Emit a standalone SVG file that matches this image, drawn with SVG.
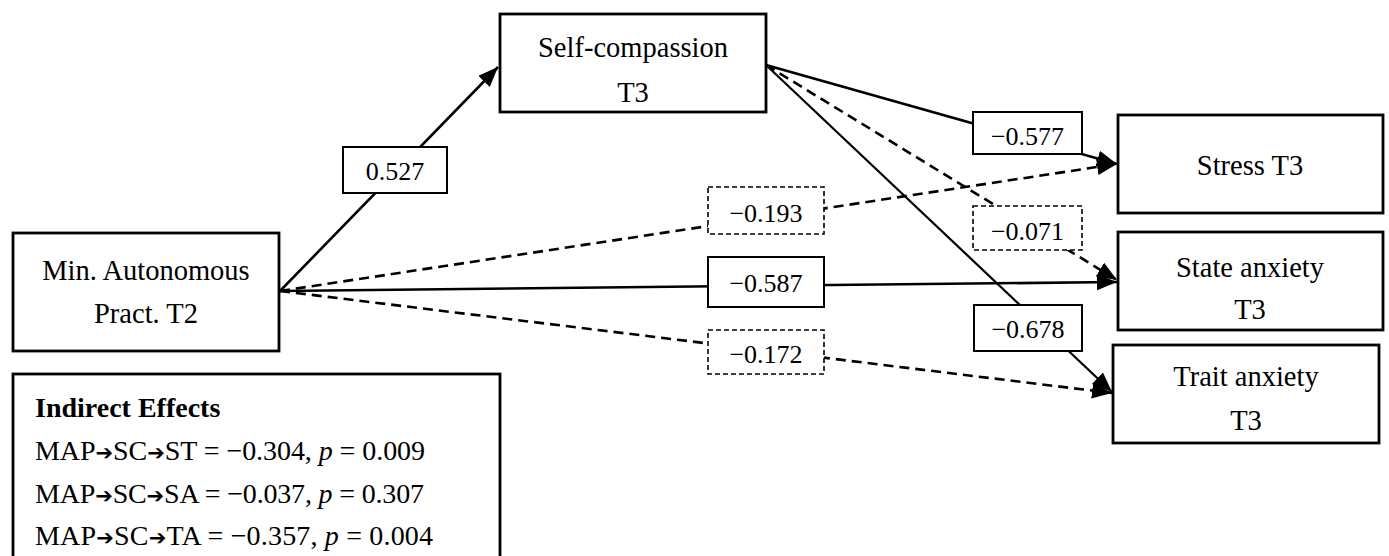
<svg xmlns="http://www.w3.org/2000/svg" width="1389" height="556" viewBox="0 0 1389 556">
<defs>
<style>
text{font-family:"Liberation Serif","Times New Roman",serif;fill:#000}
.node{fill:#fff;stroke:#000;stroke-width:2.8}
.nt{font-size:28.5px;text-anchor:middle}
.lab{fill:#fff;stroke:#000;stroke-width:2}
.labd{fill:#fff;stroke:#000;stroke-width:1.6;stroke-dasharray:5 3}
.lt{font-size:26px;text-anchor:middle}
.c{fill:none;stroke:#000;stroke-width:2.6;marker-end:url(#ah)}
.d{stroke-dasharray:10 6}
.ie{font-size:28px}
.ar{font-family:"DejaVu Sans",sans-serif;font-size:21px}
</style>
<marker id="ah" markerUnits="userSpaceOnUse" markerWidth="22" markerHeight="18" refX="20" refY="8" orient="auto">
<path d="M0,0 L20,8 L0,16 z" fill="#000"/>
</marker>
</defs>
<rect width="1389" height="556" fill="#fff"/>

<g id="connectors">
<line class="c" x1="280" y1="291" x2="498" y2="67"/>
<line class="c" x1="766" y1="65" x2="1117" y2="164"/>
<line class="c d" x1="766" y1="65" x2="1117" y2="280"/>
<line class="c" style="stroke-width:2.2" x1="766" y1="65" x2="1112" y2="392"/>
<line class="c d" x1="280" y1="291" x2="1117" y2="164"/>
<line class="c" x1="280" y1="291" x2="1117" y2="282"/>
<line class="c d" x1="280" y1="291" x2="1112" y2="393"/>
</g>

<g id="labels">
<g id="lab-0527"><rect class="lab" x="343" y="147" width="104" height="46"/><text class="lt" x="395" y="180">0.527</text></g>
<g id="lab-0193"><rect class="labd" x="708" y="187" width="116" height="47"/><text class="lt" x="766" y="222">−0.193</text></g>
<g id="lab-0587"><rect class="lab" x="708" y="257" width="116" height="50"/><text class="lt" x="766" y="292">−0.587</text></g>
<g id="lab-0172"><rect class="labd" x="708" y="330" width="116" height="44"/><text class="lt" x="766" y="363">−0.172</text></g>
<g id="lab-0577"><rect class="lab" x="973" y="112" width="109" height="42"/><text class="lt" x="1027.5" y="145">−0.577</text></g>
<g id="lab-0071"><rect class="labd" x="973" y="206" width="109" height="44"/><text class="lt" x="1027.5" y="240">−0.071</text></g>
<g id="lab-0678"><rect class="lab" x="974" y="305" width="108" height="46"/><text class="lt" x="1028" y="338">−0.678</text></g>
</g>

<g id="node-sc"><rect class="node" x="500" y="14" width="266" height="98"/><text class="nt" x="633" y="57">Self-compassion</text><text class="nt" x="633" y="102">T3</text></g>
<g id="node-map"><rect class="node" x="13" y="233" width="266" height="118"/><text class="nt" x="146" y="280">Min. Autonomous</text><text class="nt" x="146" y="323">Pract. T2</text></g>
<g id="node-stress"><rect class="node" x="1118" y="115" width="265" height="98"/><text class="nt" x="1250" y="175">Stress T3</text></g>
<g id="node-state"><rect class="node" x="1118" y="232" width="265" height="98"/><text class="nt" x="1250" y="277">State anxiety</text><text class="nt" x="1250" y="319">T3</text></g>
<g id="node-trait"><rect class="node" x="1113" y="345" width="266" height="98"/><text class="nt" x="1246" y="386">Trait anxiety</text><text class="nt" x="1246" y="430">T3</text></g>

<g id="indirect">
<rect class="node" x="13" y="374" width="487" height="200"/>
<text class="ie" x="35" y="417" font-weight="bold">Indirect Effects</text>
<text class="ie" x="35" y="460" textLength="390" lengthAdjust="spacing">MAP<tspan class="ar">➔</tspan>SC<tspan class="ar">➔</tspan>ST = −0.304, <tspan font-style="italic">p</tspan> = 0.009</text>
<text class="ie" x="35" y="503" textLength="389" lengthAdjust="spacing">MAP<tspan class="ar">➔</tspan>SC<tspan class="ar">➔</tspan>SA = −0.037, <tspan font-style="italic">p</tspan> = 0.307</text>
<text class="ie" x="35" y="545" textLength="398" lengthAdjust="spacing">MAP<tspan class="ar">➔</tspan>SC<tspan class="ar">➔</tspan>TA = −0.357, <tspan font-style="italic">p</tspan> = 0.004</text>
</g>
</svg>
